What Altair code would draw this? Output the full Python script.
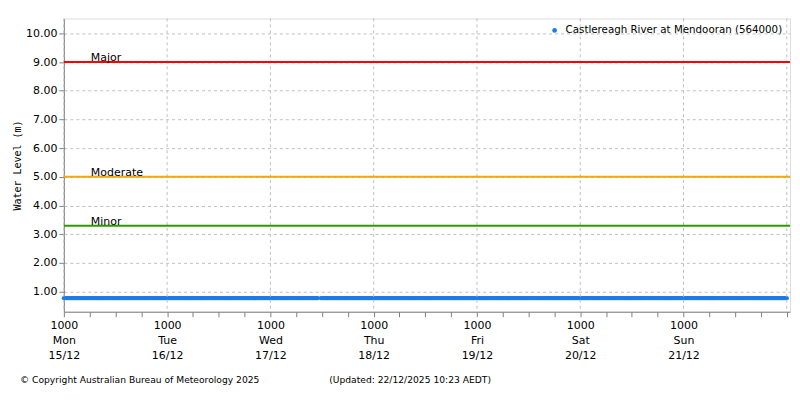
import altair as alt
import pandas as pd

# ---- data ----
start = "2025-12-15T10:00:00Z"
end_data = "2025-12-22T10:00:00Z"
gap_times = ["2025-12-17T21:15:00Z", "2025-12-17T21:30:00Z"]
level_value = 0.77  # the series is flat at ~0.77 m for the whole week

threshold_names = ["Major", "Moderate", "Minor"]
threshold_values = [9.00, 5.00, 3.30]
threshold_colors = ["#ff0000", "#ffa500", "#2e9a00"]

y_ticks = [1, 2, 3, 4, 5, 6, 7, 8, 9, 10]
day_ticks = ["2025-12-15T10:00:00Z", "2025-12-16T10:00:00Z", "2025-12-17T10:00:00Z",
             "2025-12-18T10:00:00Z", "2025-12-19T10:00:00Z", "2025-12-20T10:00:00Z",
             "2025-12-21T10:00:00Z", "2025-12-22T10:00:00Z"]
legend_label = "Castlereagh River at Mendooran (564000)"
y_title = "Water Level (m)"
copyright_text = "© Copyright Australian Bureau of Meteorology 2025"
updated_text = "(Updated: 22/12/2025 10:23 AEDT)"

x_domain = ["2025-12-15T10:00:00Z", "2025-12-22T10:45:00Z"]

# ---- build tables ----
times = pd.date_range(start, end_data, freq="15min")
times = times[~times.isin(pd.to_datetime(gap_times))]
levels = [level_value] * len(times)
df = pd.DataFrame({"time": times.strftime("%Y-%m-%dT%H:%M:%SZ"), "level": levels})

tick_times = pd.date_range(start, end_data, freq="6h")
tick_ms = [int(t.value // 1_000_000) for t in tick_times]
dom_ms = [int(pd.Timestamp(d).value // 1_000_000) for d in x_domain]

thr = pd.DataFrame({"name": threshold_names, "value": threshold_values, "color": threshold_colors})
days = pd.DataFrame({"time": day_ticks})

FONT = "DejaVu Sans"
W, H = 728, 294

x_enc = alt.X(
    "time:T",
    scale=alt.Scale(type="utc", domain=dom_ms),
    axis=alt.Axis(
        values=tick_ms, tickCount=len(tick_ms) + 5,
        title=None,
        labelExpr="(utchours(datum.value)==10 && utcdate(datum.value)!=22) ? [utcFormat(datum.value,'%H%M'), utcFormat(datum.value,'%a'), utcFormat(datum.value,'%d/%m')] : ''",
        labelFont=FONT, labelFontSize=11, labelColor="#000000",
        labelLineHeight=15, labelPadding=3, labelFlush=False, labelOverlap=False,
        tickSize=5, tickColor="#808080", domainColor="#808080",
        grid=False,
    ),
)
y_enc = alt.Y(
    "level:Q",
    scale=alt.Scale(domain=[0.3, 10.52], nice=False, zero=False),
    axis=alt.Axis(
        values=y_ticks, tickCount=len(y_ticks) + 2, format=".2f", title=y_title,
        titleFont="DejaVu Sans Mono", titleFontSize=10, titleFontWeight="normal",
        titleX=-46, titleY=H / 2, titleAngle=270, titleBaseline="middle", titleColor="#000000",
        labelFont=FONT, labelFontSize=11, labelColor="#000000", labelPadding=2,
        labelOverlap=False, labelFlush=False,
        tickSize=5, tickColor="#808080", domainColor="#808080",
        grid=True, gridDash=[3, 3], gridColor="#c0c0c0",
    ),
)

vgrid = alt.Chart(days).mark_rule(strokeDash=[3, 3], color="#c0c0c0", strokeWidth=1).encode(
    x=alt.X("time:T")
)

points = alt.Chart(df).mark_circle(size=18, color="#1e7be6", opacity=1).encode(x=x_enc, y=y_enc)

rules = alt.Chart(thr).mark_rule(strokeWidth=2).encode(
    y=alt.Y("value:Q"),
    color=alt.Color("color:N", scale=None),
)
rule_labels = alt.Chart(thr).mark_text(
    align="left", baseline="bottom", dy=1, font=FONT, fontSize=11, color="#000000"
).encode(y=alt.Y("value:Q"), x=alt.value(27), text="name:N")

legend_dot = alt.Chart(pd.DataFrame({"t": [legend_label]})).mark_circle(
    size=22, color="#1e7be6", opacity=1
).encode(x=alt.value(492), y=alt.value(12))
legend_text = alt.Chart(pd.DataFrame({"t": [legend_label]})).mark_text(
    align="left", baseline="middle", font=FONT, fontSize=10.3, color="#000000"
).encode(x=alt.value(503), y=alt.value(12), text="t:N")

footer = alt.Chart(pd.DataFrame({"t": [copyright_text, updated_text], "px": [-44, 266]})).mark_text(
    align="left", baseline="middle", font=FONT, fontSize=9.2, color="#000000"
).encode(x=alt.X("px:Q", scale=None), y=alt.value(362), text="t:N")

chart = alt.layer(points, vgrid, rules, rule_labels, legend_dot, legend_text, footer).properties(
    width=W, height=H,
    autosize=alt.AutoSizeParams(type="none"),
    padding={"left": 56, "top": 10, "right": 2, "bottom": 80},
).configure_view(stroke="#808080", strokeWidth=1).configure(background="#ffffff")

chart.save("out.html", embed_options={"renderer": "svg", "actions": False})
